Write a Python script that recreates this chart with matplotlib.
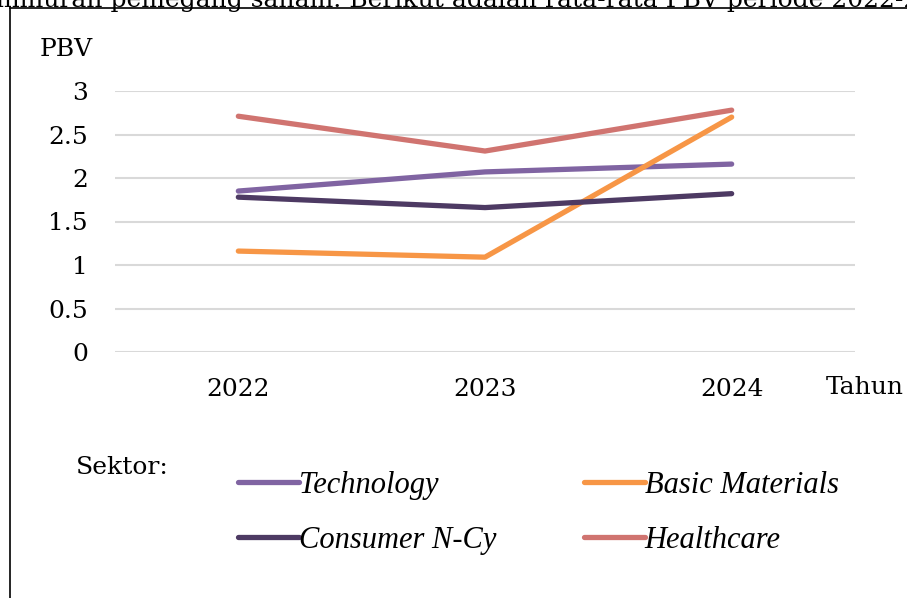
import matplotlib.pyplot as plt
from matplotlib.lines import Line2D

years = ['2022', '2023', '2024']
technology = [1.85, 2.07, 2.16]
basic_materials = [1.16, 1.09, 2.70]
consumer_ncy = [1.78, 1.66, 1.82]
healthcare = [2.71, 2.31, 2.78]

series = [
    ('Technology', technology, '#8064A2'),
    ('Basic Materials', basic_materials, '#F79646'),
    ('Consumer N-Cy', consumer_ncy, '#4D3A63'),
    ('Healthcare', healthcare, '#D07470'),
]

plt.rcParams['font.family'] = ['DejaVu Serif']

fig = plt.figure(figsize=(9.07, 5.98), dpi=100)
ax = fig.add_axes([115 / 907, 1 - 352 / 598, 740 / 907, 261 / 598])

x = range(len(years))
handles = {}
for name, vals, col in series:
    ln, = ax.plot(x, vals, color=col, lw=3.8, solid_capstyle='round', label=name)
    handles[name] = ln

ax.set_xlim(-0.5, 2.5)
ax.set_ylim(0, 3)
ax.set_yticks([0, 0.5, 1, 1.5, 2, 2.5, 3])
ax.set_yticklabels(['0', '0.5', '1', '1.5', '2', '2.5', '3'])
ax.set_xticks(list(x))
ax.set_xticklabels(years)
ax.tick_params(length=0, labelsize=18)
ax.tick_params(axis='y', pad=19.5)
ax.tick_params(axis='x', pad=19)
ax.grid(axis='y', color='#D9D9D9', lw=1.5)
ax.set_axisbelow(True)
for s in ax.spines.values():
    s.set_visible(False)

fig.text(40 / 907, 1 - 50 / 598, 'PBV', fontsize=18, va='center')
fig.text(826 / 907, 1 - 388 / 598, 'Tahun', fontsize=18, va='center')
fig.text(76 / 907, 1 - 467 / 598, 'Sektor:', fontsize=18, va='center')

# legend, 2 columns
leg = fig.legend([handles['Technology'], handles['Consumer N-Cy'],
                  handles['Basic Materials'], handles['Healthcare']],
                 ['Technology', 'Consumer N-Cy', 'Basic Materials', 'Healthcare'],
                 ncol=2, loc='upper left', bbox_to_anchor=(238 / 907, 1 - 471 / 598),
                 frameon=False, handlelength=2.0, handletextpad=0.0,
                 borderpad=0, borderaxespad=0,
                 columnspacing=2.85, labelspacing=0.85,
                 prop={'family': 'Liberation Serif', 'style': 'italic', 'size': 22})

# frame of the embedded chart
fig.add_artist(Line2D([10 / 907, 10 / 907], [0, 1 - 8 / 598], color='black', lw=1.2))
fig.add_artist(Line2D([10 / 907, 1], [1 - 8 / 598, 1 - 8 / 598], color='black', lw=1.2))

# cropped line of document text above the chart
fig.text(-0.004, 1 - 7 / 598,
         'mmuran pemegang saham. Berikut adalah rata-rata PBV periode 2022-2024',
         fontsize=18, va='baseline', ha='left')

fig.savefig('out.png', dpi=100)
